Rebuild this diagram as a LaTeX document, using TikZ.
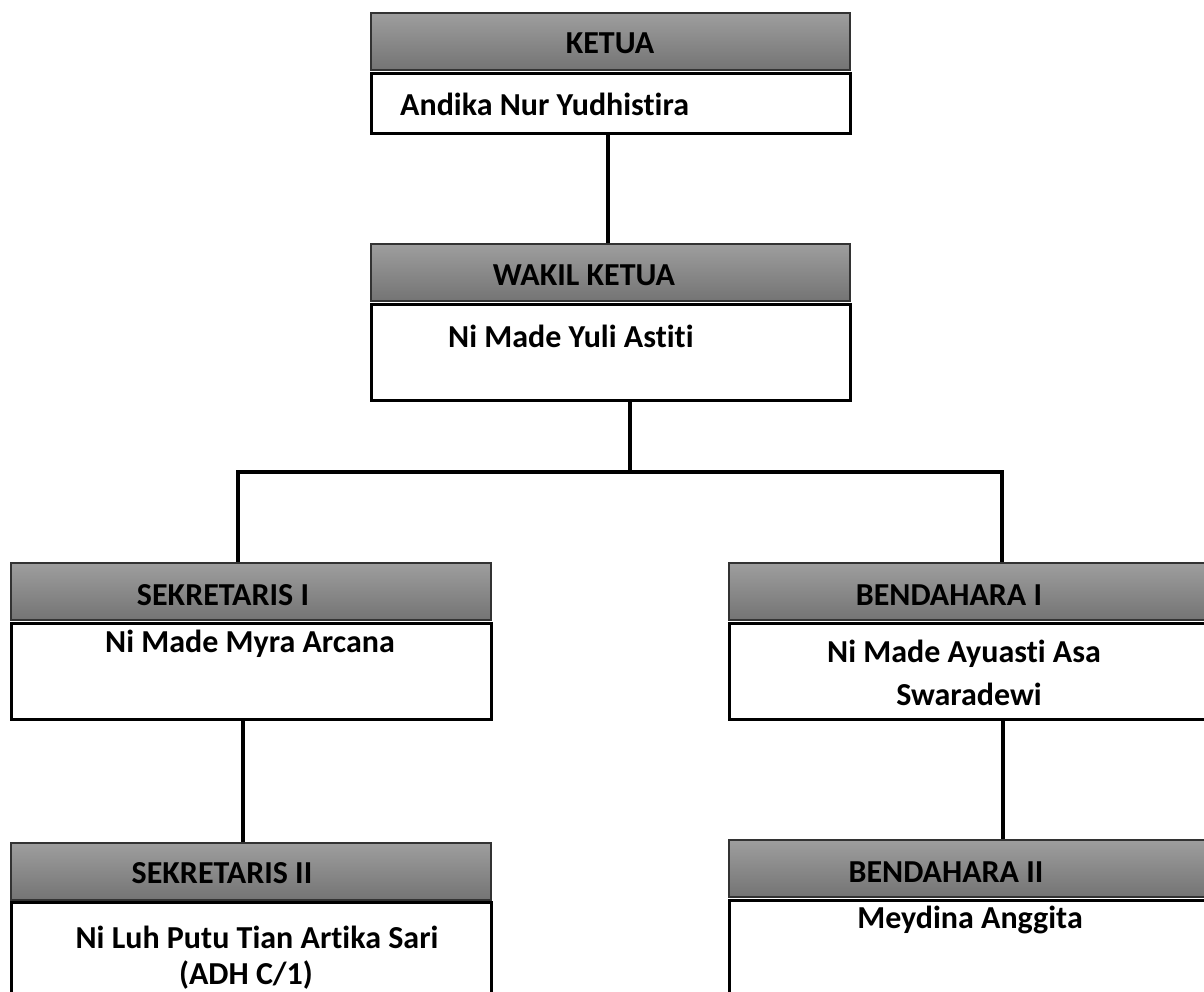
\documentclass[tikz,border=0pt]{standalone}
\usepackage{fontspec}
\setmainfont{Carlito}[Ligatures=NoCommon]
\definecolor{hdrTop}{HTML}{9E9E9E}
\definecolor{hdrBot}{HTML}{747474}
\definecolor{hdrBorder}{HTML}{333333}
\tikzset{
  hdr/.style={draw=hdrBorder, line width=1.5pt, top color=hdrTop, bottom color=hdrBot,
    minimum height=57pt, anchor=north west, inner sep=0pt},
  namebox/.style={draw=black, line width=2.5pt, fill=white, anchor=north west, inner sep=0pt},
  txt/.style={font=\fontsize{32}{39}\selectfont\bfseries, inner sep=0pt, anchor=base},
  conn/.style={line width=4pt, draw=black}
}
\begin{document}
\begin{tikzpicture}[x=1pt,y=-1pt]
\useasboundingbox (0,0) rectangle (1204,991);
\clip (0,0) rectangle (1204,991);
\fill[white] (0,0) rectangle (1204,991);

% boxes
\node[hdr, minimum width=479pt] (kH) at (370,12) {};
\node[namebox, minimum width=479pt, minimum height=60pt] (kN) at (370,72) {};
\node[hdr, minimum width=479pt] (wH) at (370,243) {};
\node[namebox, minimum width=479pt, minimum height=96pt] (wN) at (370,303) {};
\node[hdr, minimum width=480pt] (s1H) at (10,562) {};
\node[namebox, minimum width=480pt, minimum height=96pt] (s1N) at (10,622) {};
\node[hdr, minimum width=500pt] (b1H) at (728,562) {};
\node[namebox, minimum width=500pt, minimum height=96pt] (b1N) at (728,622) {};
\node[hdr, minimum width=480pt] (s2H) at (10,842) {};
\node[namebox, minimum width=480pt, minimum height=120pt] (s2N) at (10,901) {};
\node[hdr, minimum width=500pt] (b2H) at (728,839) {};
\node[namebox, minimum width=500pt, minimum height=120pt] (b2N) at (728,899) {};

% connector helper coordinates
\coordinate (kx) at (608,0);
\coordinate (bM) at (630,472);
\coordinate (bL) at (238,472);
\coordinate (bR) at (1002,472);
\coordinate (sx) at (243,0);
\coordinate (bx) at (1003,0);

% connectors
\draw[conn] (kN.south -| kx) -- (wH.north -| kx);
\draw[conn] (wN.south -| bM) -- (bM);
\draw[conn] (s1H.north -| bL) -- (bL) -- (bR) -- (b1H.north -| bR);
\draw[conn] (s1N.south -| sx) -- (s2H.north -| sx);
\draw[conn] (b1N.south -| bx) -- (b2H.north -| bx);

% texts
\node[txt] (kT) at (610,53) {KETUA};
\node[txt, anchor=base west] (kNT) at (400,115) {Andika Nur Yudhistira};
\node[txt] (wT) at (584,285) {WAKIL KETUA};
\node[txt, anchor=base west] (wNT) at (448,347) {Ni Made Yuli Astiti};
\node[txt] (s1T) at (223,605) {SEKRETARIS I};
\node[txt] (s1NT) at (250,652) {Ni Made Myra Arcana};
\node[txt] (b1T) at (949,605) {BENDAHARA I};
\node[txt] (b1NT1) at (964,662) {Ni Made Ayuasti Asa};
\node[txt] (b1NT2) at (969,705) {Swaradewi};
\node[txt] (s2T) at (222,883) {SEKRETARIS II};
\node[txt] (s2NT1) at (257,948) {Ni Luh Putu Tian Artika Sari};
\node[txt] (s2NT2) at (246,984) {(ADH C/1)};
\node[txt] (b2T) at (946,882) {BENDAHARA II};
\node[txt] (b2NT) at (970,928) {Meydina Anggita};
\end{tikzpicture}
\end{document}
